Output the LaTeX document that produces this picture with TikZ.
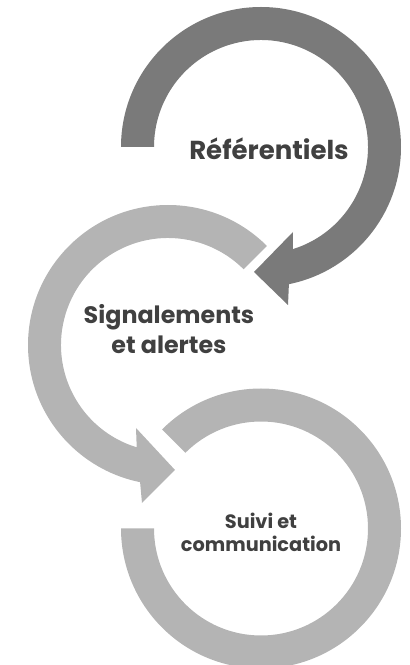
\documentclass[tikz,border=0pt]{standalone}
\usepackage{fontspec}
\usetikzlibrary{calc}
\setmainfont{Poppins}
\definecolor{darkarc}{HTML}{7A7A7A}
\definecolor{lightarc}{HTML}{B4B4B4}
\definecolor{txt}{HTML}{404040}
\begin{document}
\begin{tikzpicture}[x=1pt,y=1pt,
  lbl/.style={text=txt,font=\bfseries,align=center,inner sep=0pt}]
\useasboundingbox (0,0) rectangle (410,665);
\coordinate (c1) at (261,518);
\coordinate (c2) at (168,320);
\coordinate (c3) at (261,136.5);
% arrow 3 (Suivi)
\fill[lightarc] ($(c3)+(135:140)$) arc[start angle=135,end angle=-180,radius=140]
  -- ($(c3)+(180:107)$) arc[start angle=-180,end angle=135,radius=107] -- cycle;
% arrow 2 (Signalements)
\fill[lightarc] ($(c2)+(45:140)$) arc[start angle=45,end angle=258.5,radius=140]
  -- (142,162) -- (175,195) -- (136,237)
  -- ($(c2)+(253:107)$) arc[start angle=253,end angle=45,radius=107] -- cycle;
% arrow 1 (Referentiels)
\fill[darkarc] ($(c1)+(180:140)$) arc[start angle=180,end angle=-78.5,radius=140]
  -- (288,360) -- (254,393) -- (293,433)
  -- ($(c1)+(-72.7:107)$) arc[start angle=-72.7,end angle=180,radius=107] -- cycle;
\node[lbl,font=\bfseries\fontsize{26}{30}\selectfont] (t1) at (269,516) {Référentiels};
\node[lbl,font=\bfseries\fontsize{23.8}{30}\selectfont] (t2) at (169,336) {Signalements\\et alertes};
\node[lbl,font=\bfseries\fontsize{19.3}{23}\selectfont] (t3) at (261,132.5) {Suivi et\\communication};
\end{tikzpicture}
\end{document}
